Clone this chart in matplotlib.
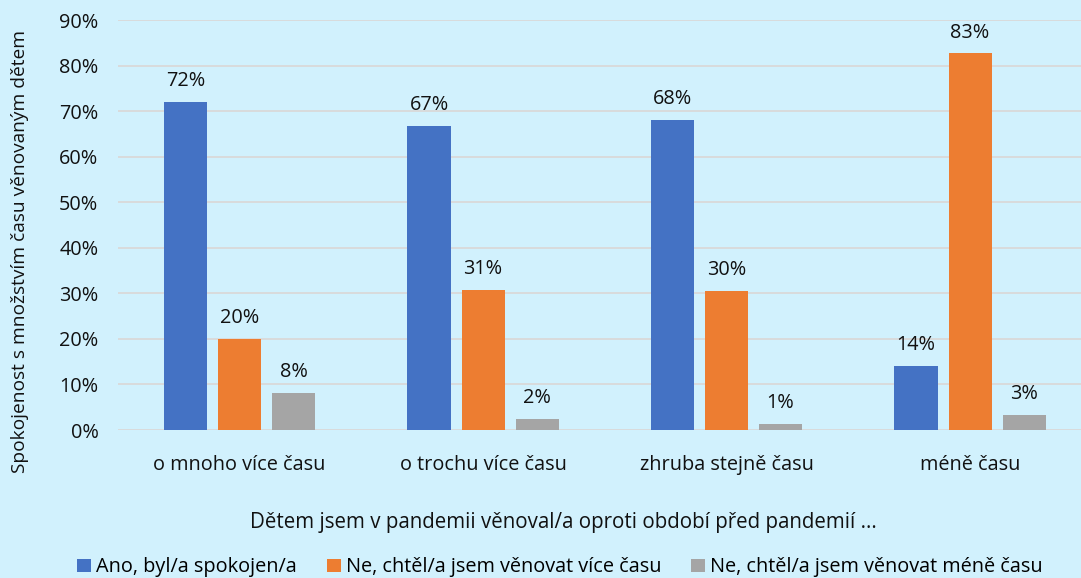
import numpy as np
import matplotlib
matplotlib.use("Agg")
from matplotlib import pyplot as plt

plt.rcParams['font.family'] = ['Open Sans', 'DejaVu Sans']

categories = ["o mnoho více času", "o trochu více času", "zhruba stejně času", "méně času"]
series_names = ["Ano, byl/a spokojen/a",
                "Ne, chtěl/a jsem věnovat více času",
                "Ne, chtěl/a jsem věnovat méně času"]
ano = [72.0, 66.7, 68.1, 14.1]
vice = [20.0, 30.8, 30.5, 82.7]
mene = [8.1, 2.4, 1.3, 3.3]
colors = ["#4472c4", "#ed7d31", "#a5a5a5"]
bg = "#d1f1fd"
txt = "#111111"
fs = 14.3

fig = plt.figure(figsize=(10.81, 5.78), dpi=100, facecolor=bg)
ax = fig.add_axes([0.109, 0.256, 0.901, 0.709], facecolor=bg)

x = np.arange(len(categories))
width = 0.177
step = 0.222
for i, (vals, name, c) in enumerate(zip([ano, vice, mene], series_names, colors)):
    bars = ax.bar(x + (i - 1) * step, vals, width, color=c, label=name, zorder=3)
    for b, v in zip(bars, vals):
        ax.text(b.get_x() + b.get_width() / 2, v + 2.4, "%d%%" % round(v),
                ha="center", va="bottom", fontsize=fs, color=txt)

ax.set_xlim(-0.5, 3.5)
ax.set_ylim(0, 90)
ax.set_yticks(np.arange(0, 91, 10))
ax.set_yticklabels(["%d%%" % t for t in range(0, 91, 10)])
ax.set_xticks(x)
ax.set_xticklabels(categories)
ax.grid(axis="y", color="#d9d9d9", linewidth=1.3, zorder=0)
for s in ax.spines.values():
    s.set_visible(False)
ax.tick_params(axis="both", length=0, labelsize=fs, colors=txt)
ax.tick_params(axis="x", pad=18)
ax.tick_params(axis="y", pad=14)

ax.set_ylabel("Spokojenost s množstvím času věnovaným dětem", fontsize=13.8, color=txt)
ax.yaxis.set_label_coords(-0.091, 0.435)
ax.set_xlabel("Dětem jsem v pandemii věnoval/a oproti období před pandemií ...", fontsize=14.8,
              color=txt)
ax.xaxis.set_label_coords(0.457, -0.2)

fig.legend(loc="lower center", bbox_to_anchor=(0.518, -0.03), ncol=3, frameon=False,
           fontsize=fs, handlelength=0.7, handleheight=0.7, handletextpad=0.25,
           columnspacing=1.5)

fig.savefig("out.png", dpi=100, facecolor=bg)
